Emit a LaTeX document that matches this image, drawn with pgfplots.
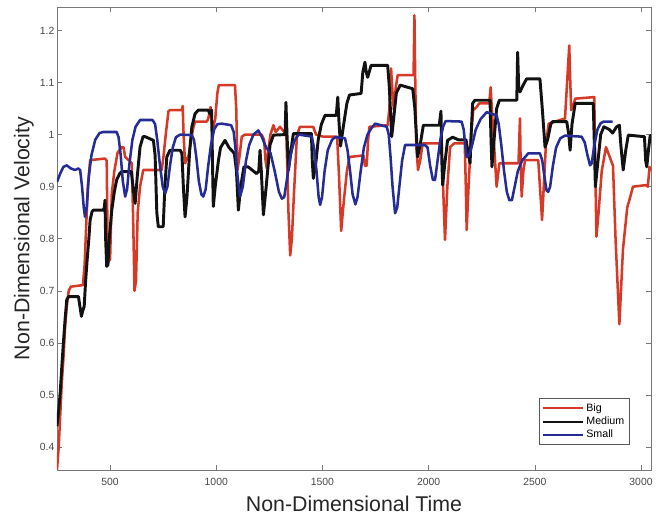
\documentclass[border=0pt]{standalone}
\usepackage{fontspec}
\setmainfont{Liberation Sans}
\usepackage{pgfplots}
\pgfplotsset{compat=1.18}
\definecolor{bigred}{RGB}{214,58,38}
\definecolor{medblack}{RGB}{18,18,18}
\definecolor{smallblue}{RGB}{38,44,150}
\definecolor{axgray}{RGB}{120,120,120}
\begin{document}
\begin{tikzpicture}
\begin{axis}[
  at={(0,0)}, anchor=south west,
  scale only axis, width=445.5pt, height=347.25pt,
  xmin=250, xmax=3047, ymin=0.356, ymax=1.245,
  xtick={500,1000,1500,2000,2500,3000},
  ytick={0.4,0.5,0.6,0.7,0.8,0.9,1,1.1,1.2},
  scaled ticks=false,
  /pgf/number format/1000 sep={},
  /pgf/number format/assume math mode=true,
  tick align=inside,
  major tick length=3.5pt,
  axis line style={axgray, line width=0.6pt},
  tick style={axgray, line width=0.5pt},
  ticklabel style={font=\fontsize{7.8}{9}\selectfont, text=black!72},
  xticklabel style={yshift=-2.5pt},
  yticklabel style={xshift=1.5pt},
  xlabel={Non-Dimensional Time},
  ylabel={Non-Dimensional Velocity},
  xlabel style={font=\fontsize{16}{19}\selectfont, text=black!85, at={(axis description cs:0.5,0)}, anchor=north, inner sep=0pt, yshift=-19.5pt},
  ylabel style={font=\fontsize{16}{19}\selectfont, text=black!85, at={(axis description cs:0,0.5)}, anchor=north, inner sep=0pt, yshift=32.5pt},
  legend style={at={(0.9646,0.054)}, anchor=south east, font=\fontsize{8}{9}\selectfont, draw=black!65, line width=0.5pt, fill=white, inner xsep=2pt, inner ysep=1.5pt, row sep=-1.2pt, cells={anchor=west}},
  legend image code/.code={\draw[#1, line width=1.6pt] (0pt,0pt) -- (30pt,0pt);},
  every axis plot/.append style={line join=round},
]
% Big
\addplot[bigred, line width=1.9pt] coordinates {
(250,0.357) (258,0.40) (265,0.459) (272,0.52) (280,0.568) (288,0.63) (296,0.670) (305,0.700) (315,0.708)
(372,0.711) (380,0.75) (385,0.80) (395,0.90) (406,0.951) (476,0.954) (484,0.95) (488,0.80) (492,0.757)
(500,0.76) (508,0.887) (520,0.93) (535,0.965) (555,0.976) (563,0.976) (571,0.957) (590,0.950) (602,0.945)
(608,0.85) (615,0.70) (622,0.72) (630,0.85) (641,0.90) (656,0.932) (743,0.932) (752,0.96) (762,1.00)
(775,1.045) (782,1.047) (838,1.047) (842,1.055) (846,1.00) (853,0.945) (870,0.96) (890,1.01) (900,1.025)
(955,1.025) (962,1.03) (973,1.053) (980,1.02) (986,1.015) (995,1.03) (1005,1.08) (1012,1.095) (1088,1.095)
(1094,1.05) (1100,0.932) (1110,0.96) (1120,0.996) (1135,1.0) (1214,1.0) (1225,0.99) (1232,0.95) (1238,0.935)
(1245,0.97) (1255,1.0) (1269,1.018) (1280,1.005) (1290,1.01) (1300,1.015) (1330,1.0) (1340,0.85) (1348,0.768)
(1356,0.80) (1365,0.88) (1380,1.0) (1394,1.015) (1456,1.015) (1470,1.0) (1503,0.996) (1569,0.996) (1578,0.92)
(1588,0.815) (1600,0.87) (1615,0.93) (1627,0.957) (1693,0.96) (1700,0.94) (1708,0.94) (1715,0.99) (1721,1.015)
(1807,1.018) (1815,1.05) (1823,1.127) (1830,1.08) (1836,1.047) (1845,1.09) (1854,1.114) (1929,1.114)
(1933,1.229) (1937,1.10) (1942,0.976) (1950,0.932) (1960,0.95) (1972,0.983) (2061,0.983) (2068,0.90)
(2077,0.798) (2088,0.90) (2101,0.976) (2120,0.983) (2170,0.983) (2175,0.90) (2179,0.817) (2188,0.90)
(2200,1.00) (2210,1.047) (2226,1.053) (2238,1.06) (2285,1.06) (2292,1.091) (2296,1.06) (2305,1.00)
(2320,0.90) (2333,0.945) (2423,0.945) (2430,1.031) (2433,0.95) (2438,0.881) (2446,0.93) (2454,0.951)
(2516,0.951) (2524,0.90) (2534,0.836) (2542,0.90) (2552,0.98) (2565,1.021) (2642,1.031) (2662,1.171)
(2667,1.10) (2671,1.047) (2680,1.055) (2690,1.069) (2780,1.072) (2784,0.95) (2790,0.804) (2800,0.85)
(2815,0.93) (2835,0.976) (2850,0.96) (2868,0.94) (2880,0.80) (2898,0.636) (2915,0.78) (2935,0.86)
(2945,0.874) (2962,0.90) (3023,0.903) (3032,0.90) (3040,0.938) (3047,0.93)
};
\addlegendentry{Big}
% Medium
\addplot[medblack, line width=2.2pt] coordinates {
(250,0.44) (258,0.47) (265,0.504) (272,0.55) (280,0.60) (288,0.645) (296,0.683) (305,0.689) (351,0.689)
(358,0.67) (365,0.651) (370,0.66) (378,0.67) (385,0.72) (392,0.76) (400,0.80) (406,0.836) (415,0.852)
(421,0.855) (468,0.855) (473,0.86) (476,0.874) (479,0.80) (484,0.747) (490,0.75) (496,0.80) (508,0.855)
(520,0.89) (531,0.913) (545,0.925) (555,0.929) (600,0.929) (608,0.90) (618,0.868) (628,0.92) (641,0.976)
(655,0.996) (665,0.996) (704,0.989) (712,0.96) (720,0.85) (727,0.823) (750,0.823) (758,0.90) (767,0.957)
(782,0.97) (830,0.97) (838,0.964) (845,0.90) (853,0.842) (862,0.88) (875,0.97) (885,1.015) (900,1.04)
(915,1.047) (962,1.047) (970,1.04) (978,1.047) (982,0.95) (986,0.862) (995,0.90) (1010,0.95) (1020,0.975)
(1041,0.989) (1060,0.975) (1085,0.964) (1095,0.93) (1104,0.855) (1115,0.90) (1130,0.938) (1150,0.938)
(1190,0.925) (1200,0.93) (1206,0.97) (1212,0.93) (1222,0.846) (1235,0.90) (1253,0.98) (1269,0.999)
(1324,1.0) (1328,1.062) (1333,1.0) (1340,0.932) (1352,0.97) (1363,1.002) (1448,1.002) (1452,0.95)
(1457,0.916) (1470,0.95) (1480,0.99) (1495,1.02) (1512,1.037) (1565,1.037) (1572,1.072) (1577,1.03)
(1585,0.978) (1600,1.02) (1615,1.06) (1627,1.076) (1682,1.079) (1690,1.12) (1700,1.139) (1706,1.12)
(1713,1.11) (1729,1.133) (1807,1.133) (1815,1.09) (1826,0.996) (1835,1.03) (1848,1.08) (1866,1.095)
(1925,1.088) (1935,1.05) (1948,0.957) (1960,0.98) (1975,1.018) (2050,1.018) (2058,1.045) (2062,0.95)
(2066,0.903) (2075,0.94) (2089,0.989) (2113,0.995) (2140,0.99) (2176,0.99) (2188,0.96) (2195,0.945)
(2200,1.0) (2207,1.06) (2218,1.066) (2289,1.066) (2293,1.00) (2298,0.938) (2310,1.0) (2320,1.05)
(2333,1.066) (2415,1.066) (2419,1.158) (2424,1.09) (2430,1.082) (2445,1.095) (2461,1.107) (2524,1.107)
(2535,1.05) (2548,0.976) (2560,0.99) (2575,1.02) (2584,1.025) (2650,1.025) (2660,1.0) (2666,0.97)
(2675,1.02) (2690,1.06) (2775,1.06) (2779,1.0) (2785,0.90) (2795,0.94) (2810,1.00) (2825,1.015)
(2850,1.01) (2866,1.003) (2885,1.015) (2898,1.018) (2905,0.98) (2916,0.932) (2928,0.97) (2940,0.999)
(3016,0.996) (3022,0.95) (3027,0.938) (3035,0.97) (3043,0.998) (3047,0.998)
};
\addlegendentry{Medium}
% Small
\addplot[smallblue, line width=1.9pt] coordinates {
(250,0.909) (265,0.925) (280,0.938) (296,0.941) (315,0.935) (335,0.932) (350,0.935) (359,0.932) (368,0.90)
(376,0.86) (382,0.842) (390,0.86) (400,0.92) (412,0.96) (430,0.99) (450,1.003) (468,1.005) (531,1.005)
(540,0.995) (550,0.96) (560,0.91) (571,0.881) (580,0.895) (590,0.94) (605,0.99) (620,1.015) (641,1.028)
(700,1.028) (712,1.02) (722,0.99) (735,0.94) (748,0.90) (759,0.887) (770,0.90) (782,0.94) (795,0.975)
(810,0.995) (830,1.0) (885,0.999) (895,0.99) (905,0.96) (918,0.91) (930,0.885) (939,0.881) (950,0.895)
(962,0.94) (975,0.98) (990,1.01) (1005,1.02) (1026,1.021) (1070,1.018) (1082,1.005) (1090,0.975)
(1100,0.92) (1112,0.881) (1125,0.90) (1140,0.95) (1155,0.98) (1175,1.0) (1198,1.008) (1215,0.995)
(1235,0.975) (1255,0.965) (1275,0.93) (1295,0.89) (1309,0.877) (1320,0.88) (1335,0.92) (1350,0.96)
(1365,0.985) (1380,0.996) (1390,1.0) (1450,0.996) (1462,0.97) (1472,0.93) (1482,0.88) (1489,0.865)
(1498,0.88) (1510,0.93) (1525,0.97) (1545,0.99) (1560,0.995) (1606,0.993) (1618,0.97) (1630,0.93)
(1642,0.885) (1655,0.866) (1665,0.88) (1680,0.93) (1695,0.975) (1712,1.0) (1730,1.012) (1748,1.021)
(1803,1.015) (1812,1.0) (1820,0.96) (1830,0.90) (1842,0.849) (1852,0.86) (1862,0.90) (1875,0.95)
(1889,0.98) (1983,0.98) (1995,0.975) (2007,0.94) (2020,0.913) (2030,0.913) (2042,0.95) (2055,0.99)
(2068,1.015) (2080,1.026) (2155,1.025) (2165,1.01) (2172,0.98) (2179,0.957) (2190,0.96) (2205,0.98)
(2222,1.01) (2245,1.03) (2273,1.043) (2320,1.037) (2330,1.02) (2342,0.98) (2355,0.93) (2368,0.89)
(2380,0.874) (2392,0.874) (2405,0.90) (2420,0.93) (2440,0.95) (2469,0.964) (2524,0.964) (2535,0.95)
(2545,0.92) (2555,0.893) (2563,0.89) (2572,0.90) (2585,0.94) (2600,0.975) (2620,0.993) (2642,0.998)
(2720,0.996) (2735,0.985) (2748,0.96) (2760,0.941) (2768,0.945) (2780,0.98) (2795,1.01) (2810,1.022)
(2825,1.025) (2866,1.025)
};
\addlegendentry{Small}
\end{axis}
\pgfresetboundingbox
\path[use as bounding box] (-42.75pt,-38.25pt) rectangle (449.25pt,352.5pt);
\end{tikzpicture}
\end{document}
